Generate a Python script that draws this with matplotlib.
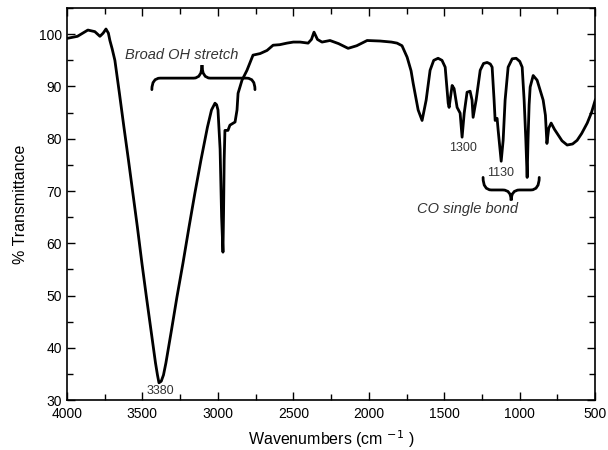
import matplotlib
matplotlib.use("Agg")
import matplotlib.pyplot as plt
from matplotlib.path import Path
from matplotlib.patches import PathPatch
from matplotlib.ticker import MultipleLocator

plt.rcParams['font.family'] = ['Liberation Sans', 'DejaVu Sans']

# Spectrum (wavenumber cm^-1, % transmittance)
wavenumber = [4000, 3930, 3861, 3815, 3781, 3760, 3741, 3725, 3715, 3700, 3682,
              3652, 3622, 3592, 3563, 3533, 3503, 3473, 3443, 3413, 3400, 3390,
              3375, 3360, 3344, 3307, 3271, 3231, 3191, 3152, 3112, 3069, 3042,
              3019, 3008, 2999, 2985, 2975, 2966, 2962, 2958, 2953, 2933, 2920,
              2886, 2873, 2866, 2840, 2807, 2767, 2720, 2674, 2634, 2590, 2542,
              2500, 2455, 2402, 2380, 2363, 2340, 2310, 2257, 2200, 2137, 2080,
              2011, 1925, 1850, 1813, 1780, 1746, 1720, 1706, 1673, 1647, 1620,
              1594, 1570, 1541, 1515, 1494, 1474, 1468, 1448, 1435, 1415, 1395,
              1382, 1368, 1349, 1329, 1316, 1309, 1289, 1262, 1240, 1216, 1195,
              1183, 1170, 1163, 1150, 1143, 1123, 1110, 1097, 1077, 1050, 1024,
              1000, 984, 971, 960, 951, 945, 938, 931, 911, 885, 845, 830, 820,
              808, 792, 770, 752, 720, 686, 650, 620, 590, 553, 525, 500]
transmittance = [99.2, 99.6, 100.8, 100.5, 99.6, 100.2, 101.0, 100.2, 98.8, 97.2, 95.0,
                 88.7, 82.2, 75.9, 69.6, 63.1, 56.2, 49.7, 43.4, 37.1, 34.8, 33.3,
                 33.6, 34.8, 37.1, 43.4, 49.7, 56.2, 63.1, 69.6, 75.9, 82.2, 85.5,
                 86.8, 86.5, 85.5, 78.0, 65.0, 58.3, 66.0, 76.0, 81.6, 81.6, 82.6,
                 83.2, 85.5, 88.7, 91.2, 93.1, 96.0, 96.3, 96.9, 97.9, 98.0, 98.3,
                 98.5, 98.5, 98.3, 99.0, 100.4, 99.0, 98.5, 98.8, 98.2, 97.3, 97.8,
                 98.8, 98.7, 98.5, 98.3, 97.8, 95.6, 93.0, 90.6, 85.5, 83.5, 87.4,
                 93.1, 95.0, 95.4, 95.0, 93.7, 86.8, 86.0, 90.2, 89.6, 86.0, 84.9,
                 80.3, 84.9, 88.9, 89.1, 87.4, 84.1, 87.4, 93.1, 94.4, 94.6, 94.3,
                 93.7, 87.4, 83.5, 83.9, 81.6, 75.7, 79.7, 87.4, 93.7, 95.3, 95.4,
                 94.8, 93.7, 87.4, 80.0, 72.6, 80.0, 86.5, 89.9, 92.1, 91.2, 87.4,
                 84.5, 79.1, 82.0, 83.0, 81.8, 81.0, 79.6, 78.8, 79.0, 79.7, 81.0,
                 83.0, 85.0, 87.4]

peak_labels = ["3380", "1300", "1130"]
peak_label_x = [3380, 1376, 1130]
peak_label_y = [31.8, 78.2, 73.4]

group_labels = ["Broad OH stretch", "CO single bond"]
group_label_x = [3238, 1349]
group_label_y = [96.0, 66.5]

# braces: (left wn, right wn, end y, bar y, tip y, tip wn)
braces = [(3437, 2754, 89.4, 91.6, 94.1, 3105),
          (1243, 871, 72.6, 70.2, 68.2, 1057)]

xticks = [4000, 3500, 3000, 2500, 2000, 1500, 1000, 500]
yticks = [30, 40, 50, 60, 70, 80, 90, 100]

fig = plt.figure(figsize=(6.08, 4.5), dpi=100)
ax = fig.add_axes([0.110, 0.111, 0.869, 0.871])

ax.plot(wavenumber, transmittance, color='black', lw=2.0, solid_joinstyle='round')

ax.set_xlim(4000, 500)
ax.set_ylim(30, 105)
ax.set_xticks(xticks)
ax.set_yticks(yticks)
ax.xaxis.set_minor_locator(MultipleLocator(250))
ax.yaxis.set_minor_locator(MultipleLocator(5))
ax.tick_params(which='both', direction='in', top=True, right=True,
               labelsize=10, width=1.0)
ax.tick_params(which='major', length=6)
ax.tick_params(which='minor', length=4)
ax.tick_params(axis='x', pad=5)
for s in ax.spines.values():
    s.set_linewidth(1.2)

ax.set_xlabel("Wavenumbers (cm $^{-1}$ )", fontsize=11.5, labelpad=5)
ax.set_ylabel("% Transmittance", fontsize=11.5, labelpad=8)

for t, x, y in zip(peak_labels, peak_label_x, peak_label_y):
    ax.text(x, y, t, ha='center', va='center', fontsize=9, color='#333333')

for t, x, y in zip(group_labels, group_label_x, group_label_y):
    ax.text(x, y, t, ha='center', va='center', fontsize=10.5, color='#333333',
            style='italic')

def draw_brace(ax, xl, xr, yend, ybar, ytip, xm):
    d = 55.0 if xl < xr else -55.0
    verts = [(xl, yend), (xl, ybar), (xl + d, ybar),
             (xm - d, ybar), (xm, ybar), (xm, ytip),
             (xm, ybar), (xm + d, ybar),
             (xr - d, ybar), (xr, ybar), (xr, yend)]
    codes = [Path.MOVETO, Path.CURVE3, Path.CURVE3,
             Path.LINETO, Path.CURVE3, Path.CURVE3,
             Path.CURVE3, Path.CURVE3,
             Path.LINETO, Path.CURVE3, Path.CURVE3]
    ax.add_patch(PathPatch(Path(verts, codes), fill=False, lw=2.0,
                           edgecolor='black', capstyle='round'))

for b in braces:
    xl, xr, yend, ybar, ytip, xm = b
    draw_brace(ax, xl, xr, yend, ybar, ytip, xm)

fig.savefig("out.png", dpi=100)
